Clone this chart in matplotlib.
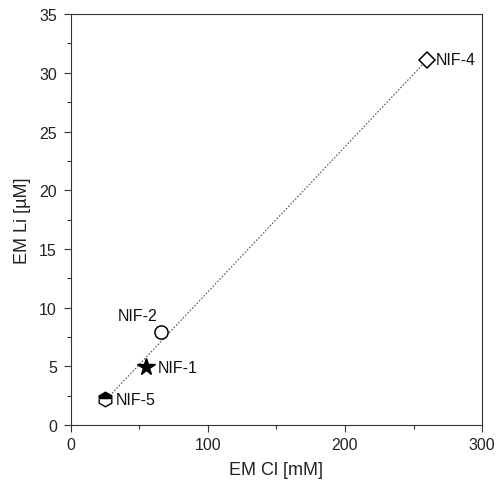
import matplotlib
matplotlib.use("Agg")
import matplotlib.pyplot as plt
import numpy as np
from matplotlib.ticker import MultipleLocator

plt.rcParams['font.family'] = ['Liberation Sans', 'DejaVu Sans']

names = ["NIF-1", "NIF-2", "NIF-4", "NIF-5"]
em_cl = [55, 66, 260, 25]
em_li = [4.9, 7.9, 31.1, 2.2]
markers = ["*", "o", "D", "h"]

fig = plt.figure(figsize=(4.99, 4.89), dpi=100)
ax = fig.add_axes([0.142, 0.129, 0.824, 0.840])

coef = np.polyfit(em_cl, em_li, 1)
xs = np.array([min(em_cl), max(em_cl)])
ax.plot(xs, np.polyval(coef, xs), linestyle=(0, (1.5, 1.5)), color='#555555', lw=0.8, zorder=1)

for n, x, y, m in zip(names, em_cl, em_li, markers):
    if m == "*":
        ax.plot(x, y, marker=m, ms=13, color='black', mec='black', zorder=3)
    elif m == "h":
        ax.plot(x, y, marker=m, ms=10.5, color='black', mec='black', mew=1.0,
                fillstyle='top', markerfacecoloralt='white', zorder=3)
    else:
        ax.plot(x, y, marker=m, ms=9.5 if m == "o" else 8.5, mfc='white', mec='black', mew=1.1, zorder=3)

offsets = {"NIF-1": (8, 0, 'left'), "NIF-2": (-3, 12, 'right'), "NIF-4": (6, 0, 'left'), "NIF-5": (8, 0, 'left')}
for n, x, y in zip(names, em_cl, em_li):
    dx, dy, ha = offsets[n]
    ax.annotate(n, (x, y), xytext=(dx, dy), textcoords='offset points', ha=ha, va='center',
                fontsize=11.5, color='#111111')

ax.set_xlim(0, 300)
ax.set_ylim(0, 35)
ax.xaxis.set_major_locator(MultipleLocator(100))
ax.xaxis.set_minor_locator(MultipleLocator(50))
ax.yaxis.set_major_locator(MultipleLocator(5))
ax.yaxis.set_minor_locator(MultipleLocator(2.5))
ax.tick_params(which='major', direction='out', length=5, width=0.8, labelsize=11.5, colors='#333333', labelcolor='#222222')
ax.tick_params(axis='y', which='major', pad=5)
ax.tick_params(axis='x', which='major', pad=4)
ax.tick_params(which='minor', direction='out', length=3, width=0.8, colors='#333333')
ax.tick_params(top=False, right=False, which='both')
for s in ax.spines.values():
    s.set_linewidth(0.8)
    s.set_color('#333333')
ax.set_xlabel("EM Cl [mM]", fontsize=13, color='#222222', labelpad=6)
ax.set_ylabel("EM Li [µM]", fontsize=13, color='#222222', labelpad=6)

fig.savefig("out.png", dpi=100)
